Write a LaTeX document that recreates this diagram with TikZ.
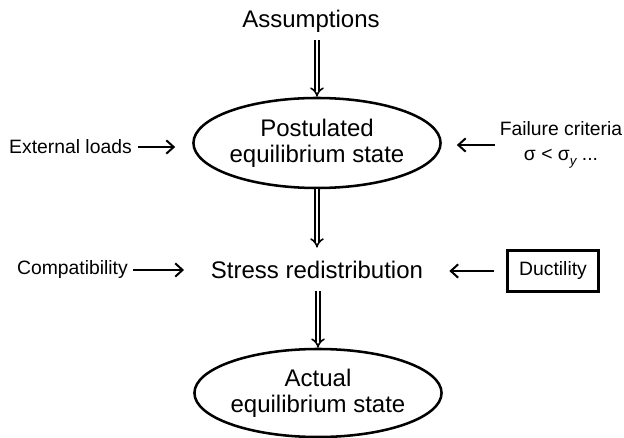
\documentclass[tikz,border=0pt]{standalone}
\usepackage{fontspec}
\setmainfont{Liberation Sans}
\usetikzlibrary{positioning,arrows.meta,shapes.geometric}

\begin{document}
\begin{tikzpicture}[x=0.75pt,y=-0.75pt,inner sep=0pt,
                    big/.style={font=\fontsize{18}{19.5}\selectfont},
                    small/.style={font=\fontsize{14.5}{18.75}\selectfont},
                    bubble/.style={draw,ellipse,line width=1.9pt,big,align=center,
                                   minimum width=172.5pt,minimum height=67.5pt},
                    feed/.style={-{Straight Barb[length=5.5pt,width=10pt]},line width=1.5pt},
                    flow/.style={double,line width=1.2pt,double distance=2.2pt,-{Implies}}]
  \useasboundingbox (0,0) rectangle (624,438);

  \node[big]                   (assum)  at (311,21)  {Assumptions};
  \node[bubble]                (post)   at (317,143) {Postulated\\equilibrium state};
  \node[small,anchor=east]     (ext)    at (132,147) {External loads};
  \node[small,align=center]    (fail)   at (561,145) {Failure criteria\\
                                 σ < σ\raisebox{-0.45ex}{\fontsize{10}{10}\selectfont\itshape y} ...};
  \node[big]                   (stress) at (317,270) {Stress redistribution};
  \node[small,anchor=east]     (compat) at (128,270) {Compatibility};
  \node[small,draw,line width=1.9pt,minimum width=68pt,minimum height=31pt]
                               (duct)   at (553,271) {Ductility};
  \node[bubble,minimum height=66pt] (act) at (318,393) {Actual\\equilibrium state};

  % main chain
  \draw[flow,shorten <=6pt] (post.north |- assum.south) -- (post.north);
  \draw[flow,shorten >=10pt] (post.south) -- (stress.north -| post.south);
  \draw[flow,shorten <=9pt] (stress.south -| act.north) -- (act.north);

  % side inputs
  \draw[feed,shorten <=4.5pt,shorten >=12.75pt] (ext.east) -- (ext.east -| post.west);
  \draw[feed,shorten <=3.75pt,shorten >=11.25pt] (fail.west) -- (fail.west -| post.east);
  \draw[feed,shorten <=3.75pt,shorten >=20pt] (compat.east) -- (compat.east -| stress.west);
  \draw[feed,shorten <=9pt,shorten >=19.5pt] (duct.west) -- (duct.west -| stress.east);
\end{tikzpicture}
\end{document}
